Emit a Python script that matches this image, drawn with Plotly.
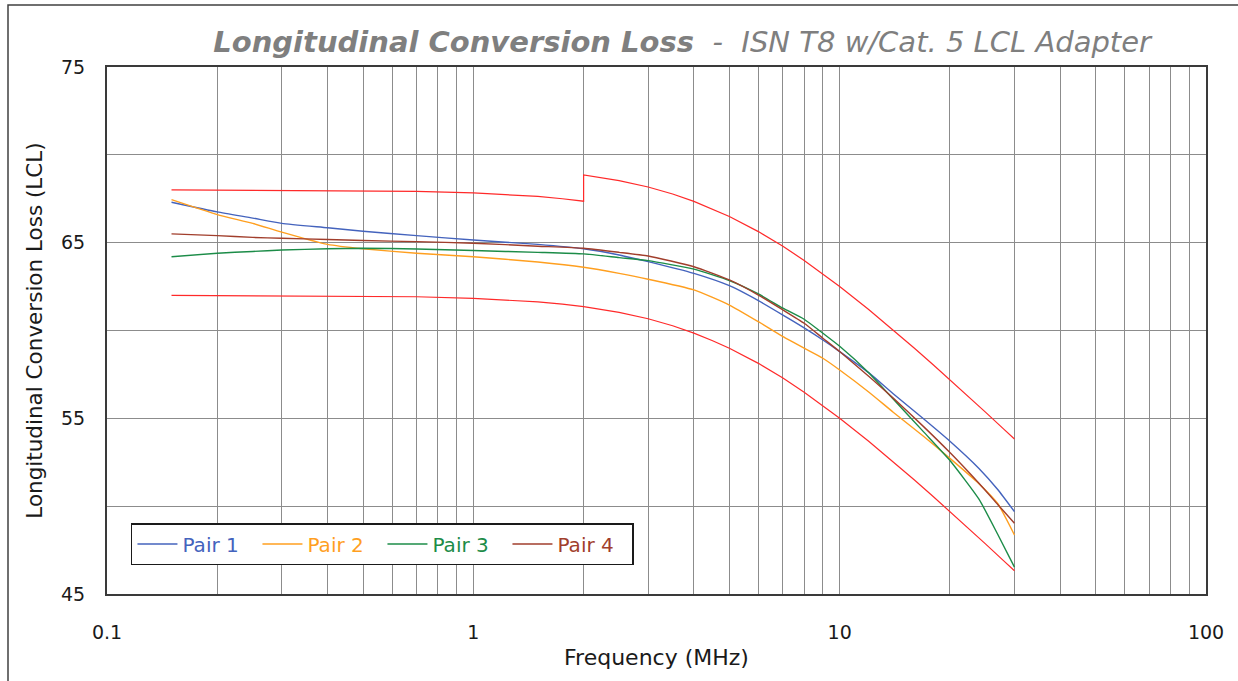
import plotly.graph_objects as go

# ---- data (MHz, dB) ----
freq = [0.15, 0.2, 0.25, 0.3, 0.4, 0.5, 0.7, 1, 1.5, 2, 2.5, 3, 4, 5, 6, 7, 8, 9, 10, 12, 14, 17, 20, 24, 27, 30]
pair1 = [67.3, 66.75, 66.4, 66.1, 65.85, 65.65, 65.4, 65.15, 64.9, 64.65, 64.3, 63.92, 63.25, 62.55, 61.7, 60.88, 60.15, 59.46, 58.8, 57.6, 56.4, 54.95, 53.7, 52.15, 50.95, 49.69]
pair2 = [67.45, 66.6, 66.1, 65.6, 64.9, 64.65, 64.4, 64.2, 63.9, 63.6, 63.25, 62.92, 62.31, 61.45, 60.5, 59.65, 58.99, 58.42, 57.75, 56.5, 55.35, 53.95, 52.72, 51.28, 50.15, 48.36]
pair3 = [64.2, 64.4, 64.5, 64.58, 64.65, 64.68, 64.64, 64.55, 64.45, 64.36, 64.15, 63.98, 63.49, 62.84, 62.08, 61.27, 60.64, 59.84, 59.1, 57.6, 56.1, 54.2, 52.6, 50.4, 48.4, 46.53]
pair4 = [65.5, 65.4, 65.3, 65.25, 65.18, 65.12, 65.06, 64.97, 64.8, 64.68, 64.45, 64.24, 63.63, 62.88, 62.02, 61.17, 60.41, 59.56, 58.8, 57.4, 56.15, 54.5, 53.05, 51.3, 50.1, 49.03]

upper_freq = [0.15, 0.3, 0.5, 0.7, 1, 1.25, 1.5, 1.75, 2, 2, 2.5, 3, 3.5, 4, 4.5, 5, 6, 7, 8, 9, 10, 12, 14, 16, 18, 20, 22, 25, 28, 30]
upper_lim = [68.0, 67.98, 67.96, 67.92, 67.83, 67.74, 67.63, 67.5, 67.36, 68.86, 68.53, 68.17, 67.77, 67.35, 66.92, 66.49, 65.63, 64.79, 63.99, 63.23, 62.51, 61.2, 60.04, 58.99, 58.05, 57.2, 56.41, 55.35, 54.4, 53.82]
lower_freq = [0.15, 0.3, 0.5, 0.7, 1, 1.25, 1.5, 1.75, 2, 2.5, 3, 3.5, 4, 4.5, 5, 6, 7, 8, 9, 10, 12, 14, 16, 18, 20, 22, 25, 28, 30]
lower_lim = [62.0, 61.98, 61.96, 61.92, 61.83, 61.74, 61.63, 61.5, 61.36, 61.03, 60.67, 60.27, 59.85, 59.42, 58.99, 58.13, 57.29, 56.49, 55.73, 55.01, 53.7, 52.54, 51.49, 50.55, 49.7, 48.91, 47.85, 46.9, 46.32]

series_names = ["Pair 1", "Pair 2", "Pair 3", "Pair 4"]
series_colors = ["#4463BD", "#FF9F1F", "#1C8C48", "#A13E2C"]
limit_color = "#FF2A2A"

x_tickvals = [0.1, 1, 10, 100]
x_ticktext = ["0.1", "1", "10", "100"]
x_gridvals = [m * d for d in (0.1, 1, 10) for m in range(1, 10)] + [100]

FONT = "DejaVu Sans"

fig = go.Figure()

fig.add_trace(go.Scatter(x=upper_freq, y=upper_lim, mode="lines",
                         line=dict(color=limit_color, width=1.2), showlegend=False, hoverinfo="skip"))
fig.add_trace(go.Scatter(x=lower_freq, y=lower_lim, mode="lines",
                         line=dict(color=limit_color, width=1.2), showlegend=False, hoverinfo="skip"))

for name, vals, col in zip(series_names, [pair1, pair2, pair3, pair4], series_colors):
    fig.add_trace(go.Scatter(
        x=freq, y=vals, mode="lines", line=dict(color=col, width=1.4, shape="spline", smoothing=0.5),
        name=f'<span style="color:{col}">{name}</span>'))

grid_col = "#8C8C8C"
fig.update_layout(
    width=1238, height=681,
    margin=dict(l=107, r=32, t=67, b=87, autoexpand=False),
    paper_bgcolor="white", plot_bgcolor="white",
    font=dict(family=FONT, color="#1a1a1a", size=19),
    title=dict(
        text='<b><i>Longitudinal Conversion Loss</i></b>  <i>-  ISN T8 w/Cat. 5 LCL Adapter</i>',
        x=0.551, xanchor="center", y=1 - 42 / 681, yanchor="middle",
        font=dict(family=FONT, size=29, color="#7F7F7F")),
    xaxis=dict(
        type="log", range=[-1, 2], automargin=False,
        tickmode="array", tickvals=x_gridvals,
        ticktext=[(x_ticktext[x_tickvals.index(v)] if v in x_tickvals else "") for v in x_gridvals],
        showgrid=True, gridcolor=grid_col, gridwidth=1,
        showline=True, linecolor="#3A3A3A", linewidth=2, mirror=True,
        ticks="outside", ticklen=20, tickcolor="rgba(0,0,0,0)",
        tickfont=dict(size=19),
        title=dict(text="Frequency (MHz)", font=dict(size=22), standoff=8),
        zeroline=False,
    ),
    yaxis=dict(
        range=[45, 75], tickmode="linear", tick0=45, dtick=10, automargin=False,
        showgrid=True, gridcolor=grid_col, gridwidth=1,
        minor=dict(tick0=45, dtick=5, showgrid=True, gridcolor=grid_col, gridwidth=1),
        showline=True, linecolor="#3A3A3A", linewidth=2, mirror=True,
        ticks="outside", ticklen=16, tickcolor="rgba(0,0,0,0)",
        tickfont=dict(size=19),
        title=dict(text="Longitudinal Conversion Loss (LCL)", font=dict(size=21.5), standoff=12),
        zeroline=False,
    ),
    legend=dict(
        orientation="h", x=0.0218, y=0.055, xanchor="left", yanchor="bottom",
        bgcolor="white", bordercolor="#1a1a1a", borderwidth=1.5,
        font=dict(size=20), entrywidth=70, entrywidthmode="pixels",
        itemwidth=40, tracegroupgap=0,
    ),
    shapes=[dict(type="rect", xref="paper", yref="paper",
                 x0=(8 - 107) / 1099, x1=(1260 - 107) / 1099,
                 y0=(594 - 720) / 527, y1=(594 - 5) / 527,
                 line=dict(color="#404040", width=1.5), fillcolor="rgba(0,0,0,0)", layer="below")],
)

fig.write_html("out.html", config={"displayModeBar": False},
               post_script="document.body.style.margin='0px';document.body.style.overflow='hidden';")
